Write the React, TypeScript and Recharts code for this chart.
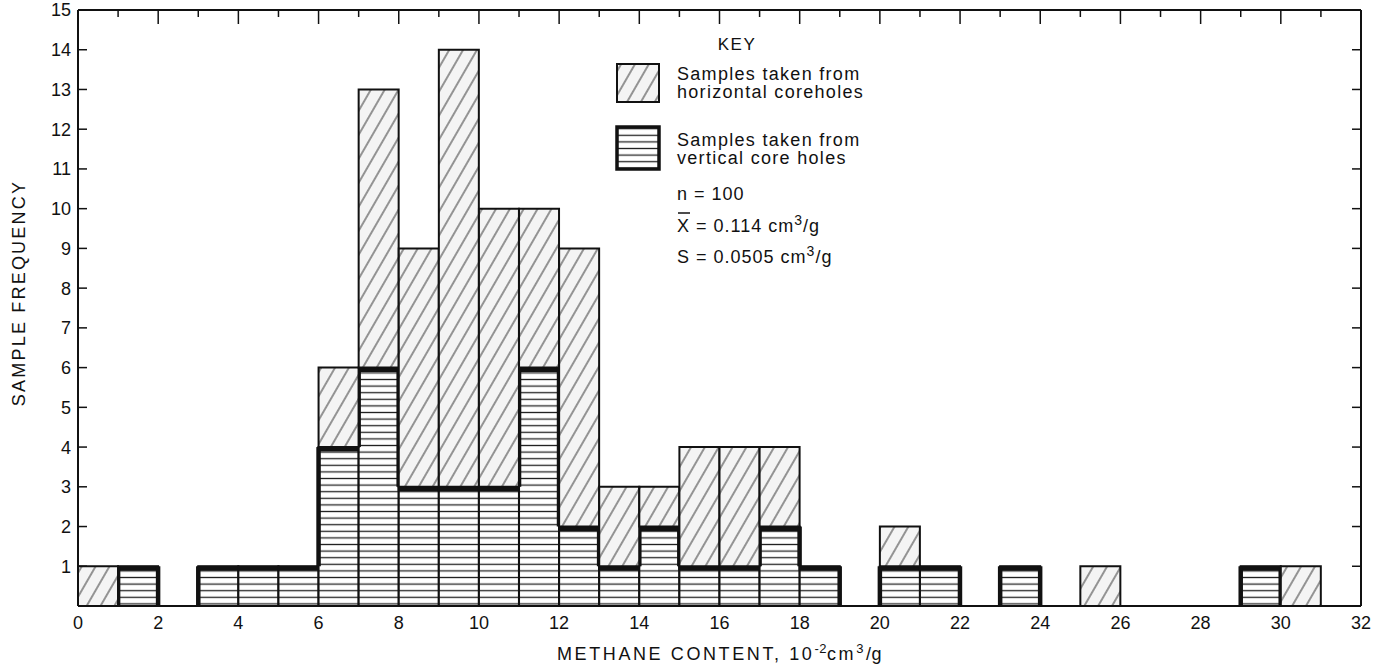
import { Bar, BarChart, XAxis, YAxis } from 'recharts';

// bins of width 1 (x 10^-2 cm3/g), starting at 0
const binStarts = Array.from({ length: 32 }, (_, i) => i);
const vertical = [0, 1, 0, 1, 1, 1, 4, 6, 3, 3, 3, 6, 2, 1, 2, 1, 1, 2, 1, 0, 1, 1, 0, 1, 0, 0, 0, 0, 0, 1, 0, 0];
const horizontal = [1, 0, 0, 0, 0, 0, 2, 7, 6, 11, 7, 4, 7, 2, 1, 3, 3, 2, 0, 0, 1, 0, 0, 0, 0, 1, 0, 0, 0, 0, 1, 0];
const xTicks = [0, 2, 4, 6, 8, 10, 12, 14, 16, 18, 20, 22, 24, 26, 28, 30, 32];
const topTicks = Array.from({ length: 33 }, (_, i) => i);
const yTicks = [1, 2, 3, 4, 5, 6, 7, 8, 9, 10, 11, 12, 13, 14, 15];
const rightTicks = [0, 1, 2, 3, 4, 5, 6, 7, 8, 9, 10, 11, 12, 13, 14, 15];

const data = binStarts.map((start, i) => ({
  bin: String(start),
  start,
  vertical: vertical[i],
  horizontal: horizontal[i],
}));

const INK = '#111';
const FONT = '"Liberation Sans", Arial, sans-serif';

function StripeBar(props: any) {
  const { x, y, width, height, index } = props;
  const v = vertical[index];
  if (!v || !height || height <= 0) return null;
  const unit = height / v;
  const base = y + height;
  const lv = index > 0 ? vertical[index - 1] : 0;
  const rv = index < vertical.length - 1 ? vertical[index + 1] : 0;
  return (
    <g>
      <rect x={x} y={y} width={width} height={height} fill="url(#stripes)" stroke={INK} strokeWidth={2} />
      <line x1={x - 1} x2={x + width + 1} y1={y + 2} y2={y + 2} stroke={INK} strokeWidth={5} />
      {lv < v && <line x1={x} x2={x} y1={y} y2={base - lv * unit} stroke={INK} strokeWidth={4.5} />}
      {rv < v && <line x1={x + width} x2={x + width} y1={y} y2={base - rv * unit} stroke={INK} strokeWidth={4.5} />}
    </g>
  );
}

function LeftTick(props: any) {
  const { x, y, payload } = props;
  return (
    <g>
      <line x1={x} x2={x + 9} y1={y} y2={y} stroke={INK} strokeWidth={1.5} />
      <text x={x - 7} y={y} dy="0.36em" textAnchor="end" fontSize={18} fontFamily={FONT} fill={INK}>
        {payload.value}
      </text>
    </g>
  );
}

function RightTick(props: any) {
  const { x, y } = props;
  return <line x1={x - 9} x2={x} y1={y} y2={y} stroke={INK} strokeWidth={1.5} />;
}

function TopTick(props: any) {
  const { x, y, payload } = props;
  const len = payload.value % 2 === 0 ? 14 : 7;
  return <line x1={x} x2={x} y1={y} y2={y + len} stroke={INK} strokeWidth={1.5} />;
}

export default function App() {
  return (
    <div style={{ position: 'absolute', left: 0, top: 0, width: 1387, height: 668, background: '#fff' }}>
      <svg width={0} height={0} style={{ position: 'absolute' }}>
        <defs>
          <pattern id="diag" patternUnits="userSpaceOnUse" width={12} height={12} patternTransform="rotate(30)">
            <rect width={12} height={12} fill="#f4f4f4" />
            <line x1={6} x2={6} y1={0} y2={12} stroke="#444" strokeWidth={1.1} />
          </pattern>
          <pattern id="stripes" patternUnits="userSpaceOnUse" width={10} height={6.6}>
            <rect width={10} height={6.6} fill="#fff" />
            <line x1={0} x2={10} y1={3.3} y2={3.3} stroke="#222" strokeWidth={1.3} />
          </pattern>
        </defs>
      </svg>
      <BarChart
        width={1387}
        height={668}
        data={data}
        margin={{ top: 9, right: 25, bottom: 0, left: 8 }}
        barCategoryGap={0}
        barGap={0}
      >
        <XAxis xAxisId={0} dataKey="bin" hide height={0} />
        <XAxis
          xAxisId="b"
          type="number"
          dataKey="start"
          domain={[0, 32]}
          allowDataOverflow
          ticks={xTicks}
          interval={0}
          height={62}
          axisLine={{ stroke: INK, strokeWidth: 2 }}
          tickLine={false}
          tickSize={0}
          tickMargin={10}
          tick={{ fill: INK, fontSize: 18, fontFamily: FONT }}
        />
        <XAxis
          xAxisId="t"
          orientation="top"
          type="number"
          dataKey="start"
          domain={[0, 32]}
          allowDataOverflow
          ticks={topTicks}
          interval={0}
          height={1}
          axisLine={{ stroke: INK, strokeWidth: 2 }}
          tickLine={false}
          tickSize={0}
          tickMargin={0}
          tick={<TopTick />}
        />
        <YAxis
          yAxisId={0}
          domain={[0, 15]}
          allowDataOverflow
          ticks={yTicks}
          interval={0}
          width={70}
          axisLine={{ stroke: INK, strokeWidth: 2 }}
          tickLine={false}
          tickSize={0}
          tickMargin={0}
          tick={<LeftTick />}
        />
        <YAxis
          yAxisId="r"
          orientation="right"
          domain={[0, 15]}
          allowDataOverflow
          ticks={rightTicks}
          interval={0}
          width={1}
          axisLine={{ stroke: INK, strokeWidth: 2 }}
          tickLine={false}
          tickSize={0}
          tickMargin={0}
          tick={<RightTick />}
        />
        <Bar dataKey="vertical" stackId="s" shape={<StripeBar />} isAnimationActive={false} />
        <Bar
          dataKey="horizontal"
          stackId="s"
          fill="url(#diag)"
          stroke={INK}
          strokeWidth={2}
          isAnimationActive={false}
        />
      </BarChart>
      <svg
        width={1387}
        height={668}
        style={{ position: 'absolute', left: 0, top: 0, pointerEvents: 'none' }}
        fontFamily={FONT}
        fill={INK}
      >
        <text x={25} y={293} transform="rotate(-90 25 293)" textAnchor="middle" fontSize={18} letterSpacing={2.2}>
          SAMPLE FREQUENCY
        </text>
        <text x={557} y={660} fontSize={18} letterSpacing={2.6}>
          METHANE CONTENT, 10
          <tspan dy={-7} fontSize={13} letterSpacing={0.5}>-2</tspan>
          <tspan dy={7}>cm</tspan>
          <tspan dy={-7} fontSize={13}>3</tspan>
          <tspan dy={7} letterSpacing={0.5}>/g</tspan>
        </text>

        <text x={737} y={50} textAnchor="middle" fontSize={17} letterSpacing={1.5}>KEY</text>
        <rect x={617} y={64} width={42} height={38} fill="url(#diag)" stroke={INK} strokeWidth={2} />
        <text x={677} y={80} fontSize={18} letterSpacing={1.3}>Samples taken from</text>
        <text x={677} y={98} fontSize={18} letterSpacing={1.3}>horizontal coreholes</text>
        <rect x={617} y={127} width={42} height={42} fill="url(#stripes)" stroke={INK} strokeWidth={3.5} />
        <text x={677} y={146} fontSize={18} letterSpacing={1.3}>Samples taken from</text>
        <text x={677} y={164} fontSize={18} letterSpacing={1.3}>vertical core holes</text>

        <text x={677} y={200} fontSize={18} letterSpacing={1}>n = 100</text>
        <line x1={678} x2={690} y1={213} y2={213} stroke={INK} strokeWidth={1.5} />
        <text x={677} y={232} fontSize={18} letterSpacing={1}>
          X = 0.114 cm
          <tspan dy={-7} fontSize={14}>3</tspan>
          <tspan dy={7}>/g</tspan>
        </text>
        <text x={677} y={263} fontSize={18} letterSpacing={1}>
          S = 0.0505 cm
          <tspan dy={-7} fontSize={14}>3</tspan>
          <tspan dy={7}>/g</tspan>
        </text>
      </svg>
    </div>
  );
}
